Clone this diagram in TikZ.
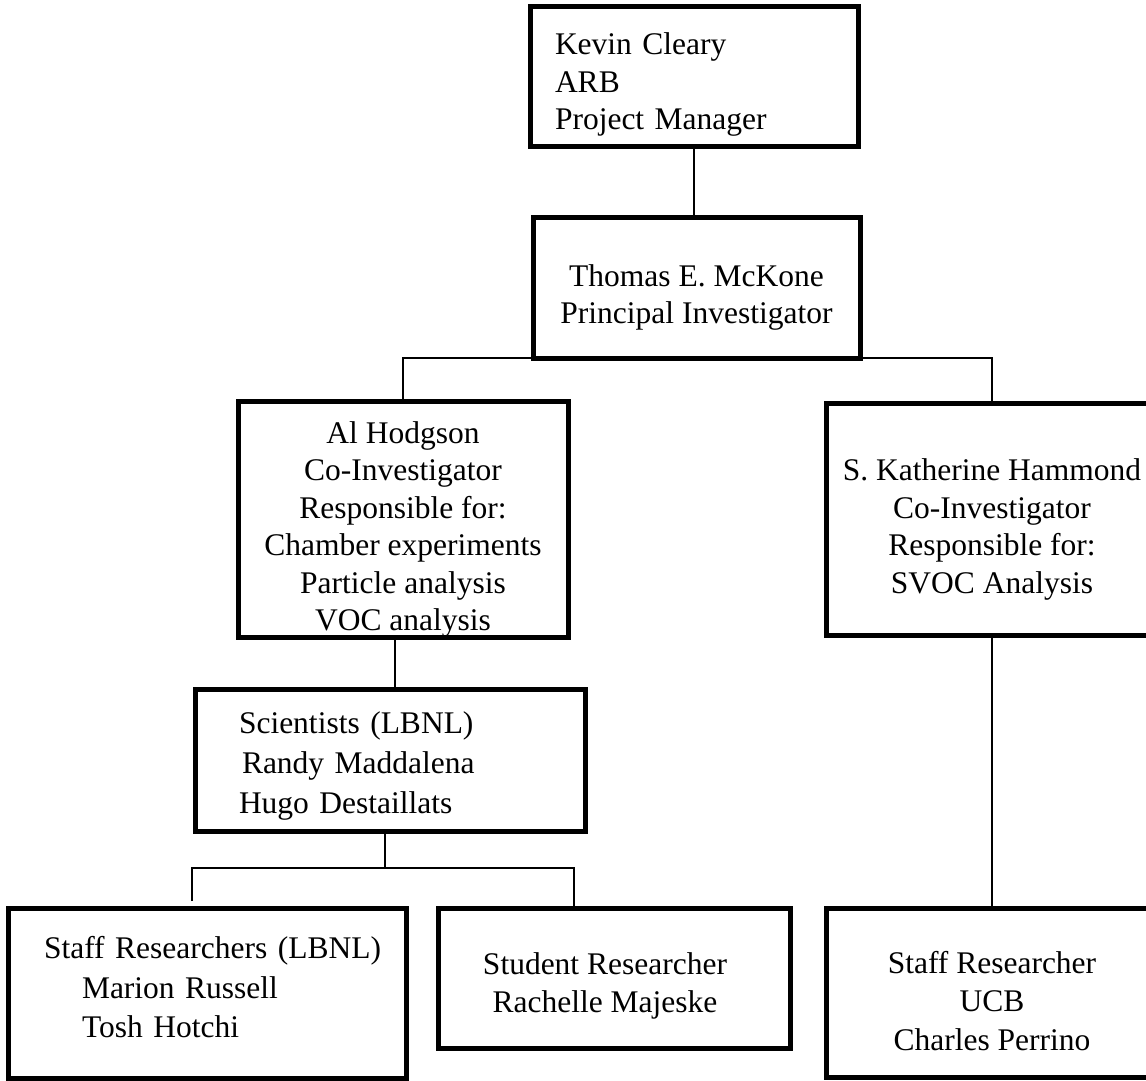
\documentclass[tikz,border=0pt]{standalone}
\usepackage{fontspec}
\setmainfont{Liberation Serif}
\newcommand{\toppad}[1]{\rule{0pt}{#1}}
\newcommand{\botpad}[1]{\rule[-#1]{0pt}{0pt}}
\begin{document}
\begin{tikzpicture}[x=0.5pt,y=-0.5pt,
  box/.style={draw, line width=2.5pt, fill=white, outer sep=0pt, inner sep=0pt,
    font=\fontsize{15.75pt}{18.75pt}\selectfont},
  link/.style={line width=0.75pt}]
\clip (0,0) rectangle (1146,1081);
\fill[white] (0,0) rectangle (1146,1081);

\node[box, minimum width=164pt, minimum height=70pt, text width=139pt, align=left]
  (kevin) at (694,77) {\toppad{18.8pt}Kevin Cleary\\ARB\\Project Manager};
\node[box, minimum width=163.5pt, minimum height=70.5pt, align=center]
  (thomas) at (696.5,287.5) {\toppad{20.8pt}Thomas E. McKone\\Principal Investigator};
\node[box, minimum width=165pt, minimum height=117.5pt, align=center]
  (al) at (403,519.5) {\toppad{20.8pt}Al Hodgson\\Co-Investigator\\Responsible for:\\Chamber experiments\\Particle analysis\\VOC analysis};
\node[box, minimum width=166pt, minimum height=116pt, align=center]
  (hammond) at (992,519) {\toppad{21.5pt}S. Katherine Hammond\\Co-Investigator\\Responsible for:\\SVOC Analysis};
\node[box, minimum width=195pt, minimum height=71pt, text width=151pt, align=left,
  font=\fontsize{15.75pt}{20pt}\selectfont]
  (sci) at (390,760) {\toppad{17pt}Scientists (LBNL)\\\hspace*{1.5pt}Randy Maddalena\\Hugo Destaillats};
\node[box, minimum width=199pt, minimum height=85pt, text width=163pt, align=left,
  font=\fontsize{15.75pt}{19.75pt}\selectfont]
  (lbnl) at (207,993) {\mbox{Staff Researchers (LBNL)}\\\hspace*{19pt}Marion Russell\\\hspace*{19pt}Tosh Hotchi\botpad{6pt}};
\node[box, minimum width=176pt, minimum height=70pt]
  (student) at (614,978) {\begin{tabular}{@{}c@{}}\toppad{21pt}Student Researcher\\Rachelle Majeske\end{tabular}\hspace*{9pt}};
\node[box, minimum width=166pt, minimum height=84.5pt, align=center,
  font=\fontsize{15.75pt}{19.25pt}\selectfont]
  (ucb) at (992,992.5) {\toppad{19.3pt}Staff Researcher\\UCB\\Charles Perrino};

\coordinate (bm) at (385,868);
\coordinate (bl) at (192,868);
\coordinate (br) at (574,868);
\coordinate (blend) at (192,901);

\draw[link] (kevin.south) -- (kevin.south |- thomas.north);
\draw[link] (al.north) |- (thomas.south) -| (hammond.north);
\draw[link] ([xshift=-4pt]al.south) -- ([xshift=-4pt]al.south |- sci.north);
\draw[link] (sci.south -| bm) -- (bm);
\draw[link] (blend) -- (bl) -- (br) -- (br |- student.north);
\draw[link] (hammond.south) -- (ucb.north);
\end{tikzpicture}
\end{document}
